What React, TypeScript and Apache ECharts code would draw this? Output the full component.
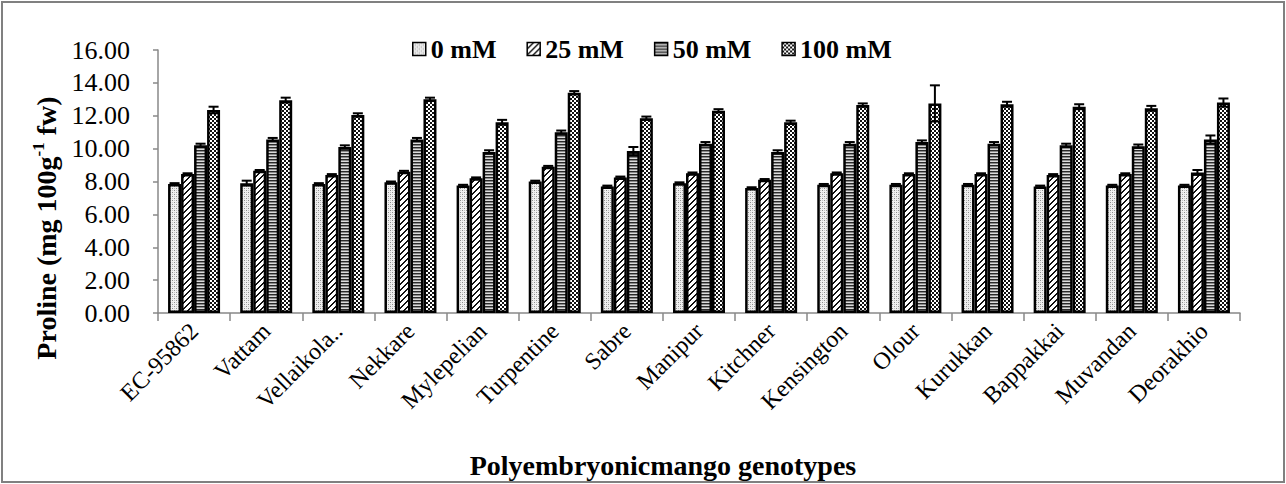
import React, { useEffect, useRef } from "react";
import * as echarts from "echarts";

const categories = [
  "EC-95862", "Vattam", "Vellaikola..", "Nekkare", "Mylepelian", "Turpentine", "Sabre",
  "Manipur", "Kitchner", "Kensington", "Olour", "Kurukkan", "Bappakkai", "Muvandan", "Deorakhio",
];
const seriesNames = ["0 mM", "25 mM", "50 mM", "100 mM"];
const mM0 = [7.85, 7.9, 7.85, 7.95, 7.75, 8.0, 7.7, 7.9, 7.6, 7.8, 7.8, 7.8, 7.7, 7.75, 7.75];
const mM25 = [8.45, 8.65, 8.4, 8.6, 8.2, 8.9, 8.25, 8.5, 8.1, 8.5, 8.45, 8.45, 8.4, 8.45, 8.55];
const mM50 = [10.2, 10.55, 10.1, 10.55, 9.8, 11.0, 9.85, 10.3, 9.8, 10.3, 10.4, 10.3, 10.2, 10.15, 10.55];
const mM100 = [12.35, 12.95, 12.05, 13.0, 11.6, 13.4, 11.85, 12.3, 11.6, 12.65, 12.75, 12.7, 12.55, 12.45, 12.8];
const err0 = [0.05, 0.15, 0.05, 0.05, 0.05, 0.05, 0.05, 0.05, 0.05, 0.05, 0.05, 0.05, 0.05, 0.05, 0.05];
const err25 = [0.05, 0.05, 0.05, 0.05, 0.05, 0.05, 0.05, 0.05, 0.05, 0.05, 0.05, 0.05, 0.05, 0.05, 0.15];
const err50 = [0.1, 0.1, 0.1, 0.1, 0.1, 0.1, 0.25, 0.1, 0.1, 0.1, 0.1, 0.1, 0.1, 0.1, 0.25];
const err100 = [0.2, 0.15, 0.1, 0.1, 0.15, 0.1, 0.1, 0.1, 0.1, 0.1, 1.1, 0.15, 0.15, 0.15, 0.25];
const yTicks = { min: 0, max: 16, interval: 2 };

const FONT = "'Liberation Serif', 'Times New Roman', serif";
const BAR_W = 13;

function tile(w: number, h: number, draw: (c: CanvasRenderingContext2D) => void) {
  const cv = document.createElement("canvas");
  cv.width = w;
  cv.height = h;
  const c = cv.getContext("2d")!;
  draw(c);
  return { image: cv.toDataURL(), repeat: "repeat", imageWidth: w, imageHeight: h } as any;
}

function makePatterns() {
  const p0 = tile(4, 4, (c) => {
    c.fillStyle = "#f0f0f0";
    c.fillRect(0, 0, 4, 4);
    c.fillStyle = "#8c8c8c";
    c.fillRect(0, 0, 1, 1);
    c.fillRect(2, 2, 1, 1);
    c.fillStyle = "#c4c4c4";
    c.fillRect(0, 2, 1, 1);
    c.fillRect(2, 0, 1, 1);
  });
  const p25 = tile(6, 6, (c) => {
    c.fillStyle = "#ffffff";
    c.fillRect(0, 0, 6, 6);
    c.fillStyle = "#111111";
    for (let i = 0; i < 6; i++) {
      c.fillRect(i, 5 - i, 1, 1);
      c.fillRect((i + 1) % 6, 5 - i, 1, 1);
    }
  });
  const p50 = tile(4, 3, (c) => {
    c.fillStyle = "#dcdcdc";
    c.fillRect(0, 0, 4, 3);
    c.fillStyle = "#2a2a2a";
    c.fillRect(0, 0, 4, 1);
    c.fillStyle = "#8a8a8a";
    c.fillRect(0, 1, 4, 1);
  });
  const p100 = tile(4, 4, (c) => {
    c.fillStyle = "#ffffff";
    c.fillRect(0, 0, 4, 4);
    c.fillStyle = "#111111";
    c.fillRect(0, 0, 2, 2);
    c.fillRect(2, 2, 2, 2);
  });
  return [p0, p25, p50, p100];
}

export default function App() {
  const ref = useRef<HTMLDivElement>(null);
  useEffect(() => {
    document.body.style.margin = "0";
    const chart = echarts.init(ref.current!, null, { renderer: "svg" });
    const patterns = makePatterns();
    const values = [mM0, mM25, mM50, mM100];
    const errs = [err0, err25, err50, err100];

    const barSeries = values.map((vals, si) => ({
      name: seriesNames[si],
      type: "bar",
      data: vals,
      barWidth: BAR_W,
      barGap: "0%",
      itemStyle: { color: patterns[si], borderColor: "#000", borderWidth: 2.5 },
      z: 2,
    }));

    const errSeries = values.map((vals, si) => ({
      type: "custom",
      name: "err" + si,
      z: 5,
      silent: true,
      data: vals.map((v, i) => [i, v, errs[si][i]]),
      encode: { x: 0, y: 1 },
      renderItem: (params: any, api: any) => {
        const idx = api.value(0);
        const v = api.value(1);
        const e = api.value(2);
        const off = (si - 1.5) * BAR_W;
        const top = api.coord([idx, v + e]);
        const bot = api.coord([idx, v - e]);
        const x = top[0] + off;
        const half = 5;
        const st = { stroke: "#000", lineWidth: 2 };
        return {
          type: "group",
          children: [
            { type: "line", shape: { x1: x, y1: top[1], x2: x, y2: bot[1] }, style: st },
            { type: "line", shape: { x1: x - half, y1: top[1], x2: x + half, y2: top[1] }, style: st },
            { type: "line", shape: { x1: x - half, y1: bot[1], x2: x + half, y2: bot[1] }, style: st },
          ],
        };
      },
    }));

    chart.setOption({
      animation: false,
      backgroundColor: "#ffffff",
      textStyle: { fontFamily: FONT },
      grid: { left: 158, right: 46, top: 50, bottom: 171, containLabel: false },
      legend: {
        data: seriesNames,
        left: 407,
        top: 31,
        icon: "rect",
        itemWidth: 13,
        itemHeight: 13,
        itemGap: 30,
        itemStyle: { borderWidth: 1.5, borderColor: "#000" },
        textStyle: { fontFamily: FONT, fontWeight: "bold", fontSize: 26, color: "#000" },
      },
      xAxis: {
        type: "category",
        data: categories,
        axisLine: { lineStyle: { color: "#888", width: 1.5 } },
        axisTick: { show: true, length: 8, lineStyle: { color: "#888", width: 1.5 } },
        axisLabel: {
          rotate: 45,
          interval: 0,
          margin: 14,
          fontFamily: FONT,
          fontSize: 24,
          color: "#000",
        },
      },
      yAxis: {
        type: "value",
        min: yTicks.min,
        max: yTicks.max,
        interval: yTicks.interval,
        axisLine: { show: true, lineStyle: { color: "#888", width: 1.5 } },
        axisTick: { show: true, length: 5, lineStyle: { color: "#888", width: 1.5 } },
        splitLine: { show: false },
        axisLabel: {
          formatter: (v: number) => v.toFixed(2),
          fontFamily: FONT,
          fontSize: 26,
          color: "#000",
          margin: 28,
        },
      },
      graphic: [
        {
          type: "rect",
          shape: { x: 2, y: 2, width: 1282, height: 480 },
          style: { fill: "none", stroke: "#808080", lineWidth: 2 },
          silent: true,
        },
        {
          type: "text",
          x: 46,
          y: 228,
          rotation: Math.PI / 2,
          style: {
            text: "{b|Proline (mg 100g}{s|-1}{b| fw)}",
            align: "center",
            verticalAlign: "middle",
            rich: {
              b: { fontFamily: FONT, fontWeight: "bold", fontSize: 28, lineHeight: 32, fill: "#000" },
              s: { fontFamily: FONT, fontWeight: "bold", fontSize: 17, lineHeight: 32, verticalAlign: "top", fill: "#000" },
            },
          },
        },
        {
          type: "text",
          x: 663,
          y: 465,
          style: {
            text: "Polyembryonicmango genotypes",
            align: "center",
            verticalAlign: "middle",
            fontFamily: FONT,
            fontWeight: "bold",
            fontSize: 28,
            fill: "#000",
          },
        },
      ],
      series: [...barSeries, ...errSeries],
    });
    return () => chart.dispose();
  }, []);
  return <div ref={ref} style={{ position: "absolute", left: 0, top: 0, width: 1286, height: 484 }} />;
}
